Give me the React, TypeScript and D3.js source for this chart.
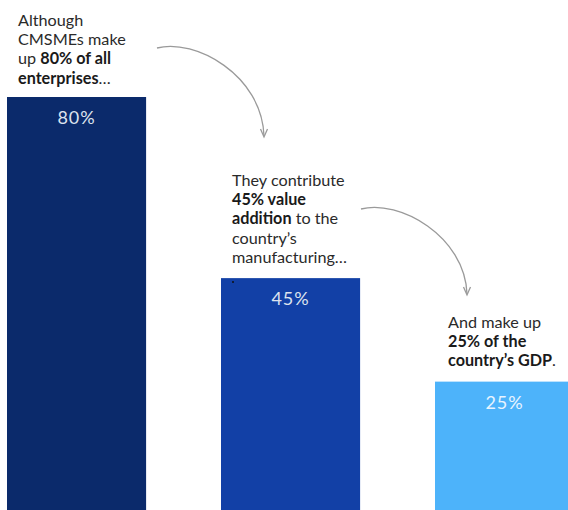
import React from "react";
import * as d3 from "d3";

const categories = ["enterprises", "manufacturing", "gdp"];
const values = [80, 45, 25];
const barLabels = ["80%", "45%", "25%"];
const barColors = ["#0b2a6b", "#1240a6", "#4db3fa"];

type Seg = { t: string; b?: boolean };
const annotations: Seg[][][] = [
  [
    [{ t: "Although" }],
    [{ t: "CMSMEs make" }],
    [{ t: "up " }, { t: "80% of all", b: true }],
    [{ t: "enterprises", b: true }, { t: "…" }],
  ],
  [
    [{ t: "They contribute" }],
    [{ t: "45% value", b: true }],
    [{ t: "addition", b: true }, { t: " to the" }],
    [{ t: "country’s" }],
    [{ t: "manufacturing…" }],
  ],
  [
    [{ t: "And make up" }],
    [{ t: "25% of the", b: true }],
    [{ t: "country’s GDP", b: true }, { t: "." }],
  ],
];

const W = 568;
const H = 510;
const baseline = 511;

export default function App() {
  const x = d3
    .scaleBand<string>()
    .domain(categories)
    .range([7, 574.1])
    .paddingInner(0.35)
    .paddingOuter(0);
  const y = d3.scaleLinear().domain([0, 80]).range([baseline, 97]);

  const bw = x.bandwidth();
  const textX = [18, 232, 448];
  const textY0 = [26, 186, 328];
  const lh = 19.2;

  const arrows = [
    "M157,48 C195,38 262,75 264,136",
    "M361,209 C399,199 465,236 467,294",
  ];
  const heads = [
    [264, 137],
    [467, 295],
  ];

  return (
    <svg
      width={W}
      height={H}
      style={{ position: "absolute", left: 0, top: 0, background: "#fff" }}
      fontFamily="Lato, 'Open Sans', sans-serif"
    >
      {categories.map((c, i) => (
        <g key={c}>
          <rect
            x={x(c)}
            y={y(values[i])}
            width={bw}
            height={baseline - y(values[i])}
            fill={barColors[i]}
          />
          <text
            x={(x(c) as number) + bw / 2}
            y={y(values[i]) + 27}
            textAnchor="middle"
            fontSize={18}
            fill={i === 2 ? "#e8f4ff" : "#dde3ee"}
            letterSpacing={0.9}
          >
            {barLabels[i]}
          </text>
        </g>
      ))}
      <circle cx={233} cy={282} r={1} fill="#111" />
      {annotations.map((lines, i) => (
        <text key={i} fontSize={16.2} fill="#2a2a2a">
          {lines.map((segs, j) => (
            <tspan key={j} x={textX[i]} y={textY0[i] + j * lh}>
              {segs.map((s, k) => (
                <tspan key={k} fontWeight={s.b ? 700 : 400} fill={s.b ? "#1a1a1a" : "#2a2a2a"}>
                  {s.t}
                </tspan>
              ))}
            </tspan>
          ))}
        </text>
      ))}
      {arrows.map((d, i) => (
        <g key={i} stroke="#9a9a9a" strokeWidth={1.3} fill="none">
          <path d={d} />
          <path
            d={`M${heads[i][0] - 3.5},${heads[i][1] - 8} L${heads[i][0]},${heads[i][1]} L${heads[i][0] + 3.5},${heads[i][1] - 8}`}
          />
        </g>
      ))}
    </svg>
  );
}
